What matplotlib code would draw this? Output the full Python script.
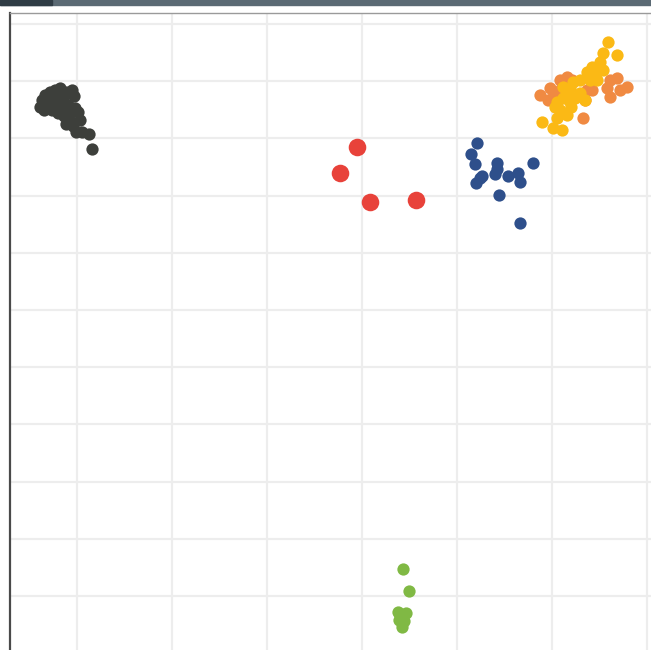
import matplotlib
matplotlib.use("Agg")
import matplotlib.pyplot as plt
from matplotlib.patches import Rectangle

# ---- data (x, y in data units) ----
dark_x = [-0.37, -0.34, -0.28, -0.23, -0.18, -0.12, -0.05, -0.03, -0.39, -0.32, -0.25, -0.20, -0.15, -0.09,
          -0.02, 0.01, -0.35, -0.26, -0.20, -0.14, -0.07, 0.03, -0.12, -0.04, -0.01, 0.05, 0.13, 0.16, -0.22, -0.16,
          -0.31, -0.10, -0.06, -0.28]
dark_y = [8.67, 8.76, 8.81, 8.85, 8.88, 8.81, 8.85, 8.74, 8.55, 8.58, 8.67, 8.72, 8.67, 8.58,
          8.53, 8.46, 8.50, 8.50, 8.44, 8.39, 8.44, 8.32, 8.25, 8.22, 8.11, 8.11, 8.08, 7.81, 8.60, 8.53,
          8.71, 8.35, 8.28, 8.62]

red_x = [2.95, 2.77, 3.08, 3.57]
red_y = [7.85, 7.40, 6.89, 6.92]

blue_x = [4.21, 4.15, 4.19, 4.26, 4.20, 4.42, 4.42, 4.40, 4.54, 4.64, 4.66, 4.80, 4.44, 4.66, 4.24]
blue_y = [7.92, 7.73, 7.55, 7.34, 7.22, 7.57, 7.47, 7.38, 7.34, 7.40, 7.24, 7.57, 7.01, 6.52, 7.31]

orange_x = [4.87, 4.98, 5.08, 5.16, 5.21, 5.01, 5.08, 5.37, 5.42, 5.33, 5.61, 5.68, 5.79, 5.72, 5.61, 5.58, 5.35, 4.96]
orange_y = [8.76, 8.88, 9.02, 9.07, 9.02, 8.72, 8.85, 8.85, 8.85, 8.36, 9.02, 9.06, 8.90, 8.85, 8.72, 8.88, 8.67, 8.67]

yellow_x = [5.59, 5.68, 5.54, 5.51, 5.47, 5.42, 5.37, 5.54, 5.45, 5.40, 5.29, 5.22, 5.19, 5.16, 5.12, 5.05,
            5.03, 5.08, 5.16, 5.05, 5.01, 5.11, 4.89, 5.35, 5.24, 5.19, 5.47, 5.29, 5.12, 5.10, 5.20]
yellow_y = [9.69, 9.46, 9.49, 9.34, 9.25, 9.25, 9.16, 9.20, 9.07, 9.02, 9.02, 8.99, 8.88, 8.79, 8.71, 8.64,
            8.55, 8.50, 8.41, 8.36, 8.18, 8.15, 8.29, 8.67, 8.71, 8.64, 9.02, 8.79, 8.90, 8.45, 8.55]

green_x = [3.43, 3.49, 3.40, 3.46, 3.39, 3.42, 3.38, 3.44]
green_y = [0.47, 0.09, -0.33, -0.30, -0.42, -0.54, -0.28, -0.44]

x_ticks = [0, 1, 2, 3, 4, 5, 6]
y_ticks = [0, 1, 2, 3, 4, 5, 6, 7, 8, 9, 10]

W, H = 651, 650
fig = plt.figure(figsize=(W / 100, H / 100), dpi=100)
fig.patch.set_facecolor("white")

left_px, right_px, top_px, bottom_px = 10, 700, 13, 680
ax = fig.add_axes([left_px / W, 1 - bottom_px / H, (right_px - left_px) / W, (bottom_px - top_px) / H])
ax.set_xlim(-0.705, 6.558)
ax.set_ylim(-1.469, 10.192)
ax.set_xticks(x_ticks)
ax.set_yticks(y_ticks)
ax.tick_params(length=0, labelbottom=False, labelleft=False)
ax.grid(True, color="#ededed", linewidth=1.6)
ax.set_axisbelow(True)
for s in ["right", "bottom"]:
    ax.spines[s].set_visible(False)
ax.spines["left"].set_color("#4a4a4a")
ax.spines["left"].set_linewidth(1.6)
ax.spines["top"].set_color("#9a9a9a")
ax.spines["top"].set_linewidth(1.0)

ms = 78
ax.scatter(dark_x, dark_y, s=ms, color="#3d3f3b", linewidths=0, zorder=3)
ax.scatter(red_x, red_y, s=160, color="#e8423a", linewidths=0, zorder=3)
ax.scatter(blue_x, blue_y, s=ms, color="#2e4f8b", linewidths=0, zorder=3)
ax.scatter(orange_x, orange_y, s=ms, color="#f08a42", linewidths=0, zorder=3)
ax.scatter(yellow_x, yellow_y, s=ms, color="#fbb915", linewidths=0, zorder=4)
ax.scatter(green_x, green_y, s=ms, color="#80b944", linewidths=0, zorder=3)

# top bar
fig.add_artist(Rectangle((0, 1 - 5 / H), 1, 5 / H, transform=fig.transFigure, color="#5b6a74", zorder=10))
fig.add_artist(Rectangle((0, 1 - 5 / H), 52 / W, 5 / H, transform=fig.transFigure, color="#2f3c45", zorder=11))

fig.savefig("out.png", dpi=100)
